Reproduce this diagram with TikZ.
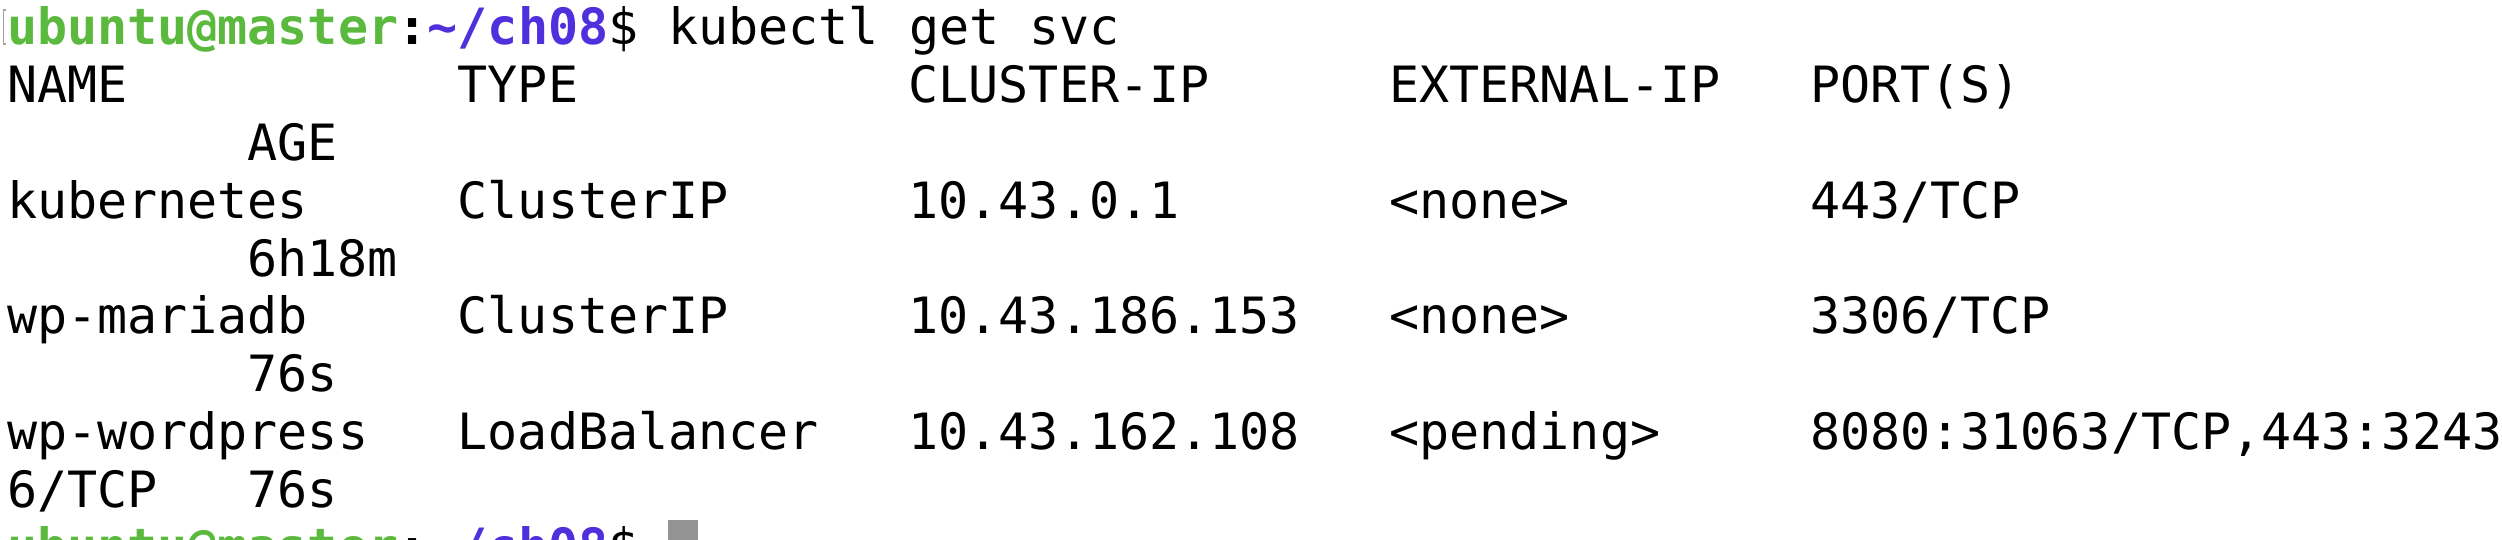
\documentclass[tikz,border=0pt]{standalone}
\usepackage{fontspec}
\setmonofont{DejaVu Sans Mono}
\definecolor{promptgreen}{HTML}{5BBA3E}
\definecolor{promptpurple}{HTML}{4F30DC}
\definecolor{cursorgray}{HTML}{939393}
\definecolor{bracketgray}{HTML}{A0A0A0}
\tikzset{
  term/.style={anchor=base west, inner sep=0pt, outer sep=0pt, font=\ttfamily\fontsize{25}{30}\selectfont, text=black},
  pgreen/.style={term, text=promptgreen, font=\ttfamily\bfseries\fontsize{25}{30}\selectfont},
  ppurple/.style={term, text=promptpurple, font=\ttfamily\bfseries\fontsize{25}{30}\selectfont},
  pcolon/.style={term, font=\ttfamily\bfseries\fontsize{25}{30}\selectfont}
}
\newcommand{\cx}[1]{\fpeval{7+#1*30.05}}
\newcommand{\ry}[1]{\fpeval{45+#1*57.75}}
\begin{document}
\begin{tikzpicture}[x=0.5pt,y=-0.5pt]
\useasboundingbox (0,0) rectangle (2502,540);
\clip (0,0) rectangle (2502,540);
\fill[white] (0,0) rectangle (2502,540);
% selection bracket
\draw[bracketgray, line width=0.6pt] (6,10) -- (3.5,10) -- (3.5,44) -- (6,44);
% row 0: prompt
\node[pgreen]  (p0u) at (\cx{0},\ry{0}) {ubuntu@master};
\node[pcolon]  (p0c) at (\cx{13},\ry{0}) {:};
\node[ppurple] (p0d) at (\cx{14},\ry{0}) {\string~/ch08};
\node[term]    (p0s) at (\cx{20},\ry{0}) {\$ kubectl get svc};
% row 1: header
\node[term] (hname) at (\cx{0},\ry{1}) {NAME};
\node[term] (htype) at (\cx{15},\ry{1}) {TYPE};
\node[term] (hcip)  at (\cx{30},\ry{1}) {CLUSTER-IP};
\node[term] (heip)  at (\cx{46},\ry{1}) {EXTERNAL-IP};
\node[term] (hport) at (\cx{60},\ry{1}) {PORT(S)};
\node[term] (hage)  at (\cx{8},\ry{2}) {AGE};
% kubernetes
\node[term] (kname) at (\cx{0},\ry{3}) {kubernetes};
\node[term] (ktype) at (\cx{15},\ry{3}) {ClusterIP};
\node[term] (kcip)  at (\cx{30},\ry{3}) {10.43.0.1};
\node[term] (keip)  at (\cx{46},\ry{3}) {<none>};
\node[term] (kport) at (\cx{60},\ry{3}) {443/TCP};
\node[term] (kage)  at (\cx{8},\ry{4}) {6h18m};
% wp-mariadb
\node[term] (mname) at (\cx{0},\ry{5}) {wp-mariadb};
\node[term] (mtype) at (\cx{15},\ry{5}) {ClusterIP};
\node[term] (mcip)  at (\cx{30},\ry{5}) {10.43.186.153};
\node[term] (meip)  at (\cx{46},\ry{5}) {<none>};
\node[term] (mport) at (\cx{60},\ry{5}) {3306/TCP};
\node[term] (mage)  at (\cx{8},\ry{6}) {76s};
% wp-wordpress
\node[term] (wname) at (\cx{0},\ry{7}) {wp-wordpress};
\node[term] (wtype) at (\cx{15},\ry{7}) {LoadBalancer};
\node[term] (wcip)  at (\cx{30},\ry{7}) {10.43.162.108};
\node[term] (weip)  at (\cx{46},\ry{7}) {<pending>};
\node[term] (wport) at (\cx{60},\ry{7}) {8080:31063/TCP,443:3243};
\node[term] (wport2) at (\cx{0},\ry{8}) {6/TCP};
\node[term] (wage)  at (\cx{8},\ry{8}) {76s};
% final prompt (cut off)
\node[pgreen]  (p9u) at (\cx{0},\ry{9}) {ubuntu@master};
\node[pcolon]  (p9c) at (\cx{13},\ry{9}) {:};
\node[ppurple] (p9d) at (\cx{14},\ry{9}) {\string~/ch08};
\node[term]    (p9s) at (\cx{20},\ry{9}) {\$};
\fill[cursorgray] (668,520) rectangle (698,560);
\end{tikzpicture}
\end{document}
